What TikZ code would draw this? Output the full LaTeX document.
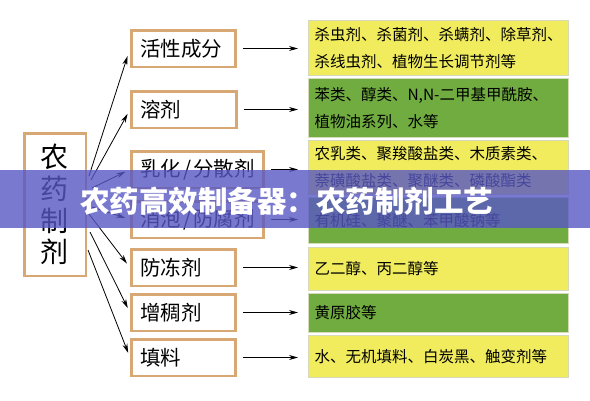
\documentclass[tikz,border=0pt]{standalone}
\usepackage{fontspec}
\newfontfamily\cjk{Noto Sans CJK SC}
\usetikzlibrary{arrows.meta}
\definecolor{boxtan}{RGB}{215,167,116}
\definecolor{lemon}{RGB}{240,236,94}
\definecolor{leaf}{RGB}{112,172,64}
\definecolor{paleedge}{RGB}{214,218,186}
\definecolor{veil}{RGB}{87,87,196}
\begin{document}
\begin{tikzpicture}[x=1pt,y=-1pt,
  rootbox/.style={draw=boxtan, line width=2.5pt, fill=white, anchor=north west, minimum width=61.5pt, minimum height=142.5pt, align=center, font=\cjk\fontsize{28}{31.7}\selectfont},
  partbox/.style={draw=boxtan, line width=2.5pt, fill=white, anchor=north west, minimum height=36.5pt, inner xsep=9pt, align=left, font=\cjk\fontsize{20.5}{22}\selectfont},
  listbox/.style={draw=paleedge, line width=1pt, anchor=north west, text width=248pt, inner xsep=6pt, align=left, font=\cjk\fontsize{15.5}{27}\selectfont},
  arr/.style={line width=0.8pt, -{Stealth[length=9pt,width=5pt]}}]
\useasboundingbox (0,0) rectangle (590,400);
\node[rootbox] (root) at (23,132){农\\药\\制\\剂};
\node[partbox, text width=86pt] (part1) at (130,29){活性成分};
\node[partbox, text width=87pt] (part2) at (130,90){溶剂};
\node[partbox, text width=114pt] (part3) at (130,150){\mbox{乳化\hspace{2pt}/\hspace{2pt}分散剂}};
\node[partbox, text width=114pt] (part4) at (130,200){\mbox{消泡\hspace{2pt}/\hspace{2pt}防腐剂}};
\node[partbox, text width=86pt] (part5) at (130,248){防冻剂};
\node[partbox, text width=86pt] (part6) at (130,293){增稠剂};
\node[partbox, text width=86pt] (part7) at (130,338){填料};
\node[listbox, fill=lemon, minimum height=55pt] (list1) at (308,20){杀虫剂、杀菌剂、杀螨剂、除草剂、\\杀线虫剂、植物生长调节剂等};
\node[listbox, fill=leaf, minimum height=59pt] (list2) at (308,78){苯类、醇类、N,N-二甲基甲酰胺、\\植物油系列、水等};
\node[listbox, fill=lemon, minimum height=54pt] (list3) at (308,140){农乳类、聚羧酸盐类、木质素类、\\萘磺酸盐类、聚醚类、磷酸酯类};
\node[listbox, fill=leaf, minimum height=46pt] (list4) at (308,197){有机硅、聚醚、苯甲酸钠等};
\node[listbox, fill=lemon, minimum height=43pt] (list5) at (308,247){乙二醇、丙二醇等};
\node[listbox, fill=leaf, minimum height=39pt] (list6) at (308,293){黄原胶等};
\node[listbox, fill=lemon, minimum height=42pt] (list7) at (308,335){水、无机填料、白炭黑、触变剂等};
\coordinate (s1) at (89,176);
\coordinate (s2) at (91,180);
\coordinate (s3) at (92,188);
\coordinate (s4) at (92,207);
\coordinate (s5) at (89,214);
\coordinate (s6) at (90,232);
\coordinate (s7) at (88,250);
\draw[arr, shorten >=8pt](s1) -- (part1.west);
\draw[arr, shorten >=5pt](s2) -- (part2.west);
\draw[arr, shorten >=5pt](s3) -- (part3.west);
\draw[arr, shorten >=5pt](s4) -- (part4.west);
\draw[arr, shorten >=5pt](s5) -- (part5.west);
\draw[arr, shorten >=5pt](s6) -- (part6.west);
\draw[arr, shorten >=5pt](s7) -- (part7.west);
\draw[arr, shorten <=6pt, shorten >=10pt](part1.east) -- (part1.east -| list1.west);
\draw[arr, shorten <=6pt, shorten >=10pt](part2.east) -- (part2.east -| list2.west);
\draw[arr, shorten <=6pt, shorten >=10pt](part3.east) -- (part3.east -| list3.west);
\draw[arr, shorten <=6pt, shorten >=10pt](part4.east) -- (part4.east -| list4.west);
\draw[arr, shorten <=6pt, shorten >=10pt](part5.east) -- (part5.east -| list5.west);
\draw[arr, shorten <=6pt, shorten >=10pt](part6.east) -- (part6.east -| list6.west);
\draw[arr, shorten <=6pt, shorten >=10pt](part7.east) -- (part7.east -| list7.west);
\fill[veil, opacity=0.8] (0,170) rectangle (590,228);
\node[white, font=\cjk\bfseries\fontsize{29.5}{30}\selectfont] (veiltext) at (287,201){农药高效制备器：农药制剂工艺};
\end{tikzpicture}
\end{document}
